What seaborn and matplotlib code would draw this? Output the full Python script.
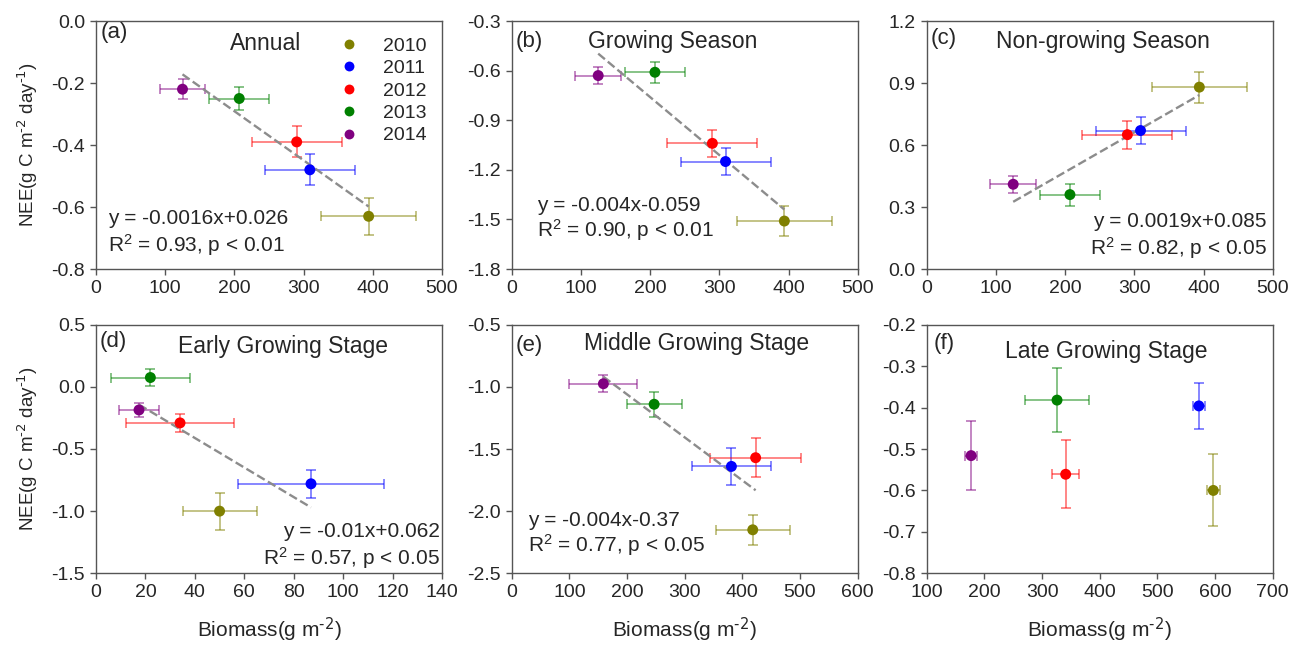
import numpy as np
import pandas as pd
import matplotlib
matplotlib.use("Agg")
import matplotlib.pyplot as plt
from matplotlib.ticker import FormatStrFormatter, MultipleLocator
import seaborn as sns

years = ["2010", "2011", "2012", "2013", "2014"]
colors = ["#808000", "#0000FF", "#FF0000", "#008000", "#800080"]

# Annual / growing / non-growing season biomass (g m-2)
biomass_season = [394, 309, 290, 207, 125]
biomass_season_err = [69, 65, 65, 43, 33]

nee_annual = [-0.63, -0.48, -0.39, -0.25, -0.22]
nee_annual_err = [0.06, 0.05, 0.05, 0.036, 0.032]

nee_growing = [-1.51, -1.15, -1.04, -0.61, -0.63]
nee_growing_err = [0.09, 0.08, 0.08, 0.065, 0.05]

nee_nongrowing = [0.88, 0.67, 0.65, 0.36, 0.41]
nee_nongrowing_err = [0.075, 0.066, 0.068, 0.053, 0.042]

biomass_early = [50, 87, 34, 22, 17.4]
biomass_early_err = [15, 29.5, 22, 16, 8]
nee_early = [-1.0, -0.78, -0.29, 0.075, -0.186]
nee_early_err = [0.15, 0.115, 0.072, 0.07, 0.06]

biomass_middle = [418, 381, 423, 247, 159]
biomass_middle_err = [64, 68, 79, 47.5, 59]
nee_middle = [-2.15, -1.64, -1.57, -1.14, -0.975]
nee_middle_err = [0.122, 0.15, 0.157, 0.10, 0.07]

biomass_late = [597, 572, 341, 326, 177]
biomass_late_err = [11, 11, 23, 55, 11]
nee_late = [-0.60, -0.396, -0.561, -0.382, -0.516]
nee_late_err = [0.087, 0.055, 0.082, 0.077, 0.083]

panel_letters = ["(a)", "(b)", "(c)", "(d)", "(e)", "(f)"]
panel_titles = ["Annual", "Growing Season", "Non-growing Season",
                "Early Growing Stage", "Middle Growing Stage", "Late Growing Stage"]
eq_lines = [
    ("y = -0.0016x+0.026", "R$^2$ = 0.93, p < 0.01"),
    ("y = -0.004x-0.059", "R$^2$ = 0.90, p < 0.01"),
    ("y = 0.0019x+0.085", "R$^2$ = 0.82, p < 0.05"),
    ("y = -0.01x+0.062", "R$^2$ = 0.57, p < 0.05"),
    ("y = -0.004x-0.37", "R$^2$ = 0.77, p < 0.05"),
    None,
]
ylabel_text = r"NEE(g C m$^{\text{-2}}$ day$^{\text{-1}}$)"
xlabel_text = r"Biomass(g m$^{\text{-2}}$)"
xlims = [(0, 500), (0, 500), (0, 500), (0, 140), (0, 600), (100, 700)]
xsteps = [100, 100, 100, 20, 100, 100]
ylims = [(-0.8, 0.0), (-1.8, -0.3), (0.0, 1.2), (-1.5, 0.5), (-2.5, -0.5), (-0.8, -0.2)]
ysteps = [0.2, 0.3, 0.3, 0.5, 0.5, 0.1]

sns.set_style("ticks")
plt.rcParams["font.family"] = ["Liberation Sans", "DejaVu Sans"]
plt.rcParams["mathtext.default"] = "regular"
plt.rcParams["axes.unicode_minus"] = False

fig = plt.figure(figsize=(12.93, 6.46), dpi=100)
W, H = 1293, 646
lefts = [96, 511.7, 926.7]
aw = 346
rows = [(21, 269), (324.7, 573.3)]

datasets = [
    (biomass_season, biomass_season_err, nee_annual, nee_annual_err),
    (biomass_season, biomass_season_err, nee_growing, nee_growing_err),
    (biomass_season, biomass_season_err, nee_nongrowing, nee_nongrowing_err),
    (biomass_early, biomass_early_err, nee_early, nee_early_err),
    (biomass_middle, biomass_middle_err, nee_middle, nee_middle_err),
    (biomass_late, biomass_late_err, nee_late, nee_late_err),
]

title_pos = [(0.49, 0.911), (0.464, 0.917), (0.51, 0.917),
             (0.541, 0.911), (0.534, 0.925), (0.52, 0.891)]
letter_pos = [(0.012, 0.952), (0.01, 0.917), (0.01, 0.93),
              (0.01, 0.932), (0.01, 0.918), (0.02, 0.925)]
eq_pos = [(0.036, 0.204, 0.097, "left"), (0.072, 0.255, 0.157, "left"),
          (0.983, 0.193, 0.083, "right"), (0.994, 0.170, 0.060, "right"),
          (0.048, 0.214, 0.114, "left"), None]
has_fit = [True, True, True, True, True, False]

for i in range(6):
    r, c = divmod(i, 3)
    top, bot = rows[r]
    ax = fig.add_axes([lefts[c] / W, (H - bot) / H, aw / W, (bot - top) / H])
    bx, bxe, ny, nye = datasets[i]
    df = pd.DataFrame({"Biomass": bx, "NEE": ny, "Year": years})
    for j in range(5):
        ax.errorbar(bx[j], ny[j], xerr=bxe[j], yerr=nye[j], fmt="none",
                    ecolor=colors[j], alpha=0.6, elinewidth=1.1, capsize=3.5,
                    capthick=1.1, zorder=2)
    if has_fit[i]:
        sns.regplot(data=df, x="Biomass", y="NEE", scatter=False, ci=None,
                    truncate=True, ax=ax,
                    line_kws=dict(color="#8c8c8c", ls="--", lw=1.7, zorder=2.5))
    sns.scatterplot(data=df, x="Biomass", y="NEE", hue="Year", hue_order=years,
                    palette=colors, s=62, edgecolor="none", ax=ax, zorder=3,
                    legend=(i == 0))
    ax.set_xlim(*xlims[i])
    ax.set_ylim(*ylims[i])
    ax.xaxis.set_major_locator(MultipleLocator(xsteps[i]))
    ax.yaxis.set_major_locator(MultipleLocator(ysteps[i]))
    ax.yaxis.set_major_formatter(FormatStrFormatter("%.1f"))
    ax.xaxis.set_major_formatter(FormatStrFormatter("%d"))
    for s in ax.spines.values():
        s.set_visible(True)
        s.set_color("#555555")
        s.set_linewidth(1.0)
    ax.tick_params(direction="out", length=4, width=1, color="#555555",
                   labelsize=14, pad=4, top=False, right=False)
    ax.set_ylabel(ylabel_text if c == 0 else "", fontsize=13.5, labelpad=8)
    ax.set_xlabel(xlabel_text if r == 1 else "", fontsize=15, labelpad=10)
    ax.text(*letter_pos[i], panel_letters[i], transform=ax.transAxes,
            ha="left", va="center", fontsize=16)
    ax.text(*title_pos[i], panel_titles[i], transform=ax.transAxes,
            ha="center", va="center", fontsize=16.5)
    if eq_lines[i] is not None:
        ex, ey1, ey2, ha = eq_pos[i]
        ax.text(ex, ey1, eq_lines[i][0], transform=ax.transAxes, ha=ha,
                va="center", fontsize=15)
        ax.text(ex, ey2, eq_lines[i][1], transform=ax.transAxes, ha=ha,
                va="center", fontsize=15)
    if i == 0:
        leg = ax.legend(loc="upper left", bbox_to_anchor=(0.653, 0.967),
                        frameon=False, fontsize=14, labelspacing=0.25,
                        handletextpad=0.75, borderaxespad=0, title=None,
                        markerscale=0.9)

fig.savefig("out.png", dpi=100)
